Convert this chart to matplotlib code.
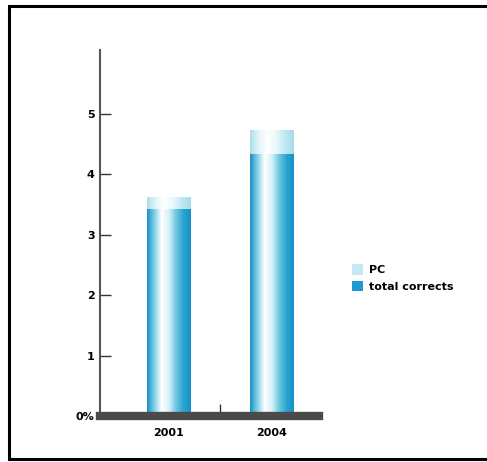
import numpy as np
import matplotlib
matplotlib.use('Agg')
import matplotlib.pyplot as plt
from matplotlib.colors import LinearSegmentedColormap
from matplotlib.patches import Patch
from matplotlib.lines import Line2D

years = ['2001', '2004']
total_corrects = [3.42, 4.33]
pc = [0.20, 0.40]
ytick_vals = [0, 1, 2, 3, 4, 5]
ytick_labels = ['0%', '1', '2', '3', '4', '5']

body_cmap = LinearSegmentedColormap.from_list(
    'body', ['#1b8fc6', '#7fd0e6', '#ffffff', '#d6f1f7', '#6cc6e0', '#2aa3d2', '#1890c6'])
cap_cmap = LinearSegmentedColormap.from_list(
    'cap', ['#a9dcec', '#e4f6fa', '#ffffff', '#e8f7fb', '#bfe7f2', '#a6dbeb'])

fig = plt.figure(figsize=(4.87, 4.62), dpi=100)
W, H = 487, 462
ax = fig.add_axes([100 / W, 1 - 416 / H, 219 / W, 366 / H])

x = np.arange(len(years))
width = 0.42
grad = np.linspace(0, 1, 256).reshape(1, -1)

body = ax.bar(x, total_corrects, width, color='#2aa3d2', zorder=2)
caps = ax.bar(x, pc, width, bottom=total_corrects, color='#c5e9f3', zorder=2)

for bars, cmap in [(body, body_cmap), (caps, cap_cmap)]:
    for b in bars:
        x0, y0 = b.get_x(), b.get_y()
        im = ax.imshow(grad, cmap=cmap, aspect='auto', zorder=3,
                       extent=[x0, x0 + b.get_width(), y0, y0 + b.get_height()])
        im.set_clip_path(b)

ax.set_xlim(-0.665, 1.46)
ax.set_ylim(0, 6.05)

ax.spines['top'].set_visible(False)
ax.spines['right'].set_visible(False)
ax.spines['left'].set_color('#555555')
ax.spines['left'].set_linewidth(1.5)
ax.spines['bottom'].set_color('#4a4a4a')
ax.spines['bottom'].set_linewidth(6)
ax.spines['bottom'].set_zorder(4)

ax.set_yticks(ytick_vals)
ax.set_yticklabels(ytick_labels, fontsize=8, fontweight='bold')
ax.tick_params(axis='y', direction='in', length=8, width=1, color='#333333', pad=4)
ax.set_xticks(x)
ax.set_xticklabels(years, fontsize=8, fontweight='bold')
ax.tick_params(axis='x', length=0, pad=9)
ax.set_xticks([0.5], minor=True)
ax.tick_params(axis='x', which='minor', direction='in', length=9, width=1, color='#333333')

handles = [Patch(facecolor='#c5e9f3', edgecolor='none', label='PC'),
           Patch(facecolor='#1e9bcc', edgecolor='none', label='total corrects')]
fig.legend(handles=handles, loc='upper left', bbox_to_anchor=(342 / W, 1 - 254 / H),
           frameon=False, handlelength=1.0, handleheight=1.1, handletextpad=0.5,
           labelspacing=0.5, prop={'size': 8, 'weight': 'bold'})

# frame around the figure, open on the right side
left, top, bottom = 9 / W, 1 - 6 / H, 1 - 459 / H
fig.add_artist(Line2D([1.0, left, left, 1.0], [top, top, bottom, bottom],
                      transform=fig.transFigure, color='black', linewidth=2.2,
                      solid_joinstyle='miter'))

fig.savefig('out.png', dpi=100)
